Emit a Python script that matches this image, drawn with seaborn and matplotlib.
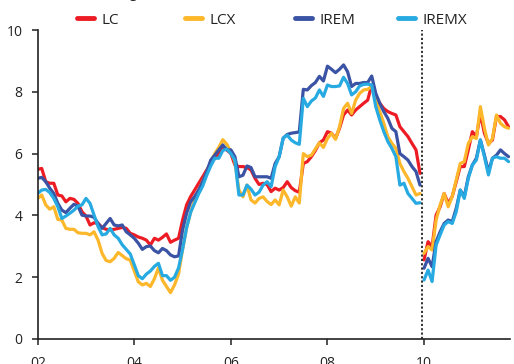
import numpy as np
import pandas as pd
import matplotlib.pyplot as plt
import seaborn as sns

series = ['LC', 'LCX', 'IREM', 'IREMX']
colors = ['#ed1c24', '#fdb72a', '#3a53a4', '#27aae1']

# monthly values, Jan 2002 - Dec 2009
lc_1 = [5.49, 5.52, 5.09, 5.04, 5.04, 4.66, 4.63, 4.44, 4.55, 4.52, 4.39, 4.12,
        3.98, 3.69, 3.76, 3.74, 3.61, 3.55, 3.53, 3.55, 3.58, 3.61, 3.58, 3.42,
        3.37, 3.30, 3.26, 3.20, 3.04, 3.26, 3.20, 3.29, 3.40, 3.13, 3.20, 3.26,
        3.85, 4.34, 4.61, 4.82, 5.04, 5.25, 5.47, 5.68, 5.85, 6.00, 6.17, 6.12,
        6.00, 5.63, 5.58, 5.58, 5.55, 5.47, 5.20, 5.00, 5.04, 5.00, 4.77, 4.88,
        4.82, 4.90, 5.09, 4.90, 4.80, 4.75, 5.68, 5.74, 5.90, 6.10, 6.35, 6.44,
        6.71, 6.66, 6.49, 6.82, 7.25, 7.41, 7.25, 7.41, 7.52, 7.63, 7.73, 8.22,
        7.84, 7.63, 7.46, 7.36, 7.30, 7.25, 6.87, 6.71, 6.55, 6.33, 6.12, 5.36]
lcx_1 = [4.55, 4.66, 4.34, 4.20, 4.28, 3.87, 3.85, 3.58, 3.55, 3.55, 3.44, 3.42,
         3.42, 3.37, 3.47, 3.20, 2.77, 2.54, 2.50, 2.61, 2.80, 2.70, 2.60, 2.55,
         2.20, 1.85, 1.75, 1.80, 1.70, 1.95, 2.30, 1.90, 1.70, 1.50, 1.75, 2.10,
         2.90, 3.60, 4.10, 4.50, 4.80, 5.10, 5.40, 5.70, 6.00, 6.20, 6.45, 6.30,
         6.06, 5.75, 4.82, 4.60, 4.98, 4.50, 4.40, 4.55, 4.60, 4.45, 4.35, 4.50,
         4.34, 4.82, 4.60, 4.30, 4.60, 4.40, 6.00, 5.90, 5.95, 6.15, 6.35, 6.20,
         6.49, 6.66, 6.46, 6.87, 7.46, 7.63, 7.30, 7.73, 7.95, 8.06, 8.08, 8.17,
         7.73, 7.36, 6.98, 6.55, 6.33, 6.17, 5.68, 5.42, 5.20, 4.93, 4.66, 4.71]
irem_1 = [5.20, 5.23, 5.09, 4.88, 4.71, 4.39, 4.17, 4.09, 4.23, 4.36, 4.30, 4.01,
          3.98, 3.98, 3.94, 3.74, 3.58, 3.74, 3.90, 3.69, 3.66, 3.69, 3.47, 3.37,
          3.26, 3.10, 2.90, 2.99, 3.01, 2.86, 2.79, 2.93, 2.86, 2.72, 2.66, 2.69,
          3.53, 4.07, 4.44, 4.61, 4.82, 5.09, 5.42, 5.79, 5.95, 6.12, 6.28, 6.12,
          6.12, 5.90, 5.25, 5.30, 5.60, 5.55, 5.25, 5.25, 5.25, 5.25, 5.20, 5.68,
          5.90, 6.50, 6.62, 6.66, 6.68, 6.70, 8.08, 8.06, 8.20, 8.30, 8.50, 8.35,
          8.83, 8.73, 8.62, 8.73, 8.87, 8.65, 8.17, 8.27, 8.27, 8.30, 8.30, 8.51,
          7.95, 7.63, 7.36, 7.14, 6.82, 6.71, 6.00, 5.90, 5.79, 5.58, 5.42, 4.98]
iremx_1 = [4.71, 4.82, 4.84, 4.74, 4.55, 4.28, 3.90, 3.98, 4.07, 4.17, 4.30, 4.34,
           4.55, 4.39, 4.01, 3.64, 3.37, 3.40, 3.58, 3.37, 3.26, 3.05, 2.90, 2.75,
           2.40, 2.05, 1.95, 2.10, 2.20, 2.35, 2.45, 2.05, 2.05, 1.90, 2.00, 2.30,
           2.90, 3.60, 4.10, 4.40, 4.70, 4.95, 5.30, 5.60, 5.85, 5.85, 6.10, 6.15,
           6.00, 5.79, 4.66, 4.66, 4.98, 4.85, 4.66, 4.75, 4.98, 5.09, 4.93, 5.58,
           5.90, 6.50, 6.60, 6.44, 6.35, 6.30, 7.79, 7.52, 7.70, 7.80, 8.06, 7.85,
           8.22, 8.17, 8.17, 8.19, 8.47, 8.27, 7.90, 8.00, 8.19, 8.24, 8.25, 8.22,
           7.52, 7.09, 6.71, 6.39, 6.17, 5.90, 4.98, 5.04, 4.71, 4.55, 4.39, 4.41]

# monthly values, Jan 2010 - Oct 2011 (new series after the break)
lc_2 = [2.56, 3.15, 2.99, 4.01, 4.28, 4.71, 4.39, 4.61, 5.09, 5.58, 5.58,
        6.12, 6.71, 6.55, 7.30, 6.66, 6.33, 6.44, 7.20, 7.20, 7.09, 6.87]
lcx_2 = [2.77, 2.99, 2.88, 3.85, 4.34, 4.71, 4.28, 4.61, 5.15, 5.68, 5.74,
         6.33, 6.55, 6.49, 7.52, 6.82, 6.28, 6.49, 7.25, 6.98, 6.87, 6.82]
irem_2 = [2.29, 2.61, 2.34, 3.15, 3.47, 3.74, 3.85, 3.80, 4.23, 4.82, 4.61,
          5.25, 5.63, 5.85, 6.44, 5.95, 5.42, 5.85, 5.95, 6.12, 6.00, 5.90]
iremx_2 = [1.91, 2.23, 1.86, 3.04, 3.37, 3.69, 3.80, 3.74, 4.12, 4.82, 4.55,
           5.20, 5.63, 5.79, 6.44, 5.90, 5.31, 5.85, 5.90, 5.85, 5.85, 5.74]

x_ticks = [2002, 2004, 2006, 2008, 2010]
x_labels = ['02', '04', '06', '08', '10']
y_ticks = [0, 2, 4, 6, 8, 10]

rows = []
for name, v1, v2 in zip(series, [lc_1, lcx_1, irem_1, iremx_1], [lc_2, lcx_2, irem_2, iremx_2]):
    for seg, (start, vals) in enumerate([(2002, v1), (2010, v2)]):
        for i, v in enumerate(vals):
            rows.append({'year': start + i / 12, 'value': v, 'series': name, 'segment': seg})
df = pd.DataFrame(rows)

sns.set_style('ticks')
plt.rcParams['font.family'] = ['Open Sans', 'DejaVu Sans']

fig = plt.figure(figsize=(5.14, 3.64), dpi=100)
ax = fig.add_axes([37.7 / 514, 25 / 364, (510 - 37.7) / 514, 309 / 364])

sns.lineplot(data=df, x='year', y='value', hue='series', hue_order=series,
             units='segment', estimator=None, palette=colors, linewidth=2.3, ax=ax)

ax.axvline(2010 - 1 / 24, color='#222222', linestyle=(0, (1.2, 1.2)), linewidth=1.3)

ax.set_xlim(2002, 2011.78)
ax.set_ylim(0, 10)
ax.set_xticks(x_ticks)
ax.set_xticklabels(x_labels)
ax.set_yticks(y_ticks)
ax.set_xlabel('')
ax.set_ylabel('')
sns.despine(ax=ax)
for s in ['left', 'bottom']:
    ax.spines[s].set_color('#222222')
    ax.spines[s].set_linewidth(1.2)
ax.tick_params(axis='both', direction='out', length=4, width=1.1, color='#222222',
               labelsize=10, labelcolor='#222222')
ax.tick_params(axis='x', pad=8)
ax.tick_params(axis='y', pad=7)

# one legend per entry so the entries sit at an even spacing like the original
handles, labels = ax.get_legend_handles_labels()
ax.get_legend().remove()
leg_x = [77, 185, 295, 398]
for h, lab, xp in zip(handles, labels, leg_x):
    leg = fig.legend([h], [lab], loc='center left',
                     bbox_to_anchor=(xp / 514, 1 - 20 / 364),
                     frameon=False, fontsize=11, handlelength=1.1, handletextpad=0.5,
                     borderaxespad=0, borderpad=0)
    for line in leg.get_lines():
        line.set_linewidth(3.5)
    for t in leg.get_texts():
        t.set_color('#222222')

# title sits above the visible area, only its descenders show
fig.text(49 / 514, 1 + 3 / 364, 'Annual change (%)', fontsize=10, va='baseline', color='#222222')

fig.savefig('out.png', dpi=100)
